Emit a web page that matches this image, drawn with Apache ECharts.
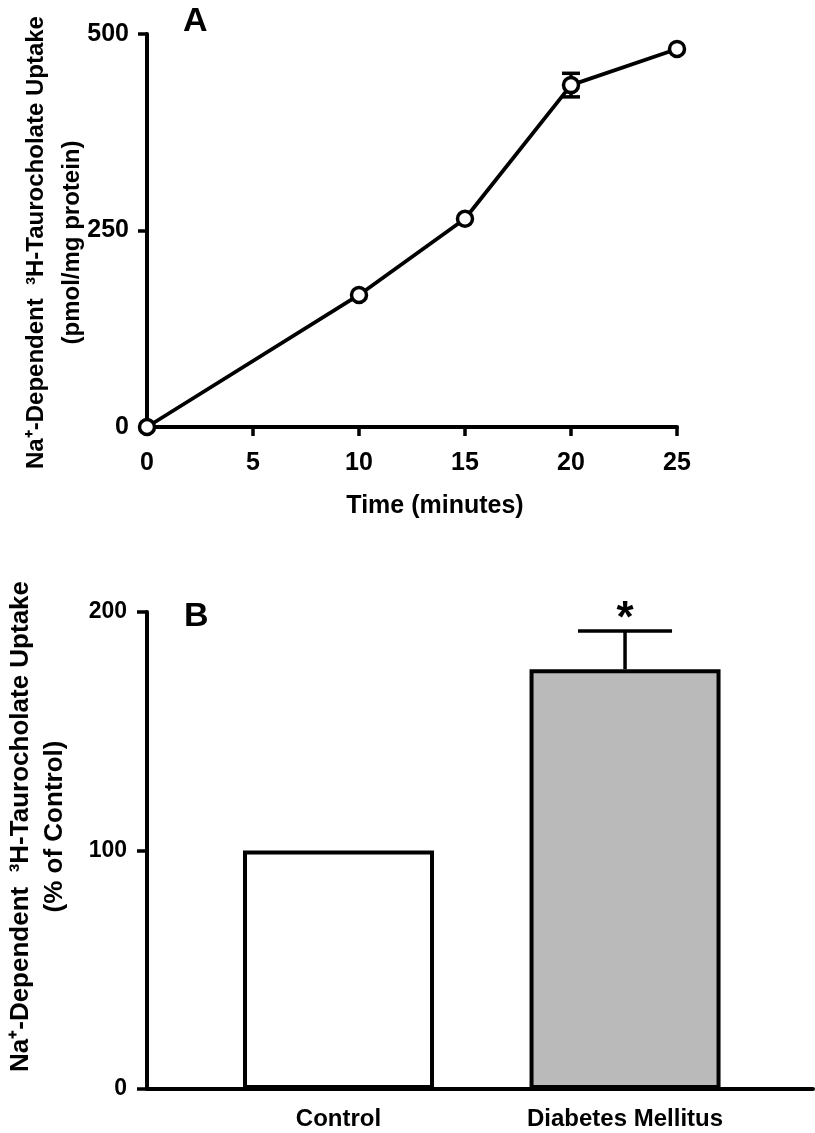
<!DOCTYPE html>
<html><head><meta charset="utf-8">
<script src="https://cdn.jsdelivr.net/npm/echarts@6/dist/echarts.min.js"></script>
<style>html,body{margin:0;padding:0;background:#fff}#c{width:815px;height:1133px}</style>
</head><body><div id="c"></div>
<script>
// Panel A data
const timeMinutes = [0, 10, 15, 20, 25];
const uptakeA = [0, 168, 265, 435, 481];
const semA = [0, 0, 0, 15, 0];
// Panel B data
const groups = ['Control', 'Diabetes Mellitus'];
const uptakeB = [100, 176];
const semB = [0, 16];
const sigB = ['', '*'];

const FONT = '"Liberation Sans", Arial, sans-serif';
const chart = echarts.init(document.getElementById('c'));

function errRender(isB) {
  return function (params, api) {
    const x = api.value(0), y = api.value(1), e = api.value(2);
    const children = [];
    const cap = isB ? 47 : 9;
    if (e > 0) {
      const pt = api.coord([x, y + e]);
      const pb = isB ? api.coord([x, y]) : api.coord([x, y - e]);
      children.push({type: 'line', shape: {x1: pt[0], y1: pt[1], x2: pb[0], y2: pb[1]}, style: {stroke: '#000', lineWidth: 3.5}});
      children.push({type: 'line', shape: {x1: pt[0] - cap, y1: pt[1], x2: pt[0] + cap, y2: pt[1]}, style: {stroke: '#000', lineWidth: 3.5}});
      if (!isB) children.push({type: 'line', shape: {x1: pb[0] - cap, y1: pb[1], x2: pb[0] + cap, y2: pb[1]}, style: {stroke: '#000', lineWidth: 3.5}});
    }
    if (isB && sigB[params.dataIndex]) {
      const pt = api.coord([x, y + e]);
      children.push({type: 'text', x: pt[0], y: pt[1] - 11, style: {text: sigB[params.dataIndex], font: 'bold 44px ' + FONT, fill: '#000', align: 'center', verticalAlign: 'middle'}});
    }
    return {type: 'group', children};
  };
}

const axisLineStyle = {show: true, onZero: false, lineStyle: {color: '#000', width: 4}};

chart.setOption({
  animation: false,
  backgroundColor: '#fff',
  textStyle: {fontFamily: FONT},
  grid: [
    {left: 147, top: 34, width: 530, height: 393, outerBoundsMode: 'none', containLabel: false},
    {left: 147, top: 612, width: 666, height: 477, outerBoundsMode: 'none', containLabel: false}
  ],
  title: [
    {text: 'A', left: 178, top: 0, textStyle: {fontSize: 34, fontWeight: 'bold', color: '#000', fontFamily: FONT}},
    {text: 'B', left: 179, top: 595, textStyle: {fontSize: 34, fontWeight: 'bold', color: '#000', fontFamily: FONT}}
  ],
  xAxis: [
    {
      type: 'value', gridIndex: 0, min: 0, max: 25, interval: 5,
      axisLine: axisLineStyle,
      axisTick: {show: true, inside: false, length: 9, lineStyle: {color: '#000', width: 3.5}},
      axisLabel: {color: '#000', fontSize: 25, fontWeight: 'bold', margin: 24, fontFamily: FONT},
      splitLine: {show: false},
      name: 'Time (minutes)', nameLocation: 'middle', nameGap: 67, nameMoveOverlap: false,
      nameTextStyle: {color: '#000', fontSize: 25, fontWeight: 'bold', fontFamily: FONT, padding: [0, 0, 0, 46]}
    },
    {
      type: 'value', gridIndex: 1, min: 0.3316, max: 2.656,
      axisLine: axisLineStyle,
      axisTick: {show: false},
      axisLabel: {color: '#000', fontSize: 24, fontWeight: 'bold', margin: 18, fontFamily: FONT,
        customValues: [1, 2], formatter: v => groups[Math.round(v) - 1] || ''},
      splitLine: {show: false}
    }
  ],
  yAxis: [
    {
      type: 'value', gridIndex: 0, min: 0, max: 500, interval: 250,
      axisLine: axisLineStyle,
      axisTick: {show: true, inside: false, length: 9, lineStyle: {color: '#000', width: 3.5}},
      axisLabel: {color: '#000', fontSize: 25, fontWeight: 'bold', margin: 18, fontFamily: FONT},
      splitLine: {show: false},
      name: 'Na⁺-Dependent  ³H-Taurocholate Uptake\n(pmol/mg protein)',
      nameLocation: 'middle', nameRotate: 90, nameGap: 57, nameMoveOverlap: false,
      nameTextStyle: {color: '#000', fontSize: 24, fontWeight: 'bold', lineHeight: 36, align: 'center', fontFamily: FONT, padding: [0, 24, 0, 0]}
    },
    {
      type: 'value', gridIndex: 1, min: 0, max: 200, interval: 100,
      axisLine: axisLineStyle,
      axisTick: {show: true, inside: false, length: 10, lineStyle: {color: '#000', width: 3.5}},
      axisLabel: {color: '#000', fontSize: 23, fontWeight: 'bold', margin: 20, fontFamily: FONT},
      splitLine: {show: false},
      name: 'Na⁺-Dependent  ³H-Taurocholate Uptake\n(% of Control)',
      nameLocation: 'middle', nameRotate: 90, nameGap: 75, nameMoveOverlap: false,
      nameTextStyle: {color: '#000', fontSize: 26, fontWeight: 'bold', lineHeight: 34, align: 'center', fontFamily: FONT, padding: [0, 0, 0, 48]}
    }
  ],
  series: [
    {
      type: 'custom', xAxisIndex: 0, yAxisIndex: 0, z: 1,
      renderItem: errRender(false),
      data: timeMinutes.map((t, i) => [t, uptakeA[i], semA[i]])
    },
    {
      type: 'line', xAxisIndex: 0, yAxisIndex: 0, z: 3,
      data: timeMinutes.map((t, i) => [t, uptakeA[i]]),
      symbol: 'circle', symbolSize: 15,
      lineStyle: {color: '#000', width: 3.8},
      itemStyle: {color: '#fff', borderColor: '#000', borderWidth: 3.5}
    },
    {
      type: 'bar', xAxisIndex: 1, yAxisIndex: 1, barWidth: 191,
      data: groups.map((g, i) => [i + 1, uptakeB[i]]),
      itemStyle: {color: p => p.dataIndex === 0 ? '#ffffff' : '#bababa', borderColor: '#000', borderWidth: 4}
    },
    {
      type: 'custom', xAxisIndex: 1, yAxisIndex: 1, z: 3,
      renderItem: errRender(true),
      data: groups.map((g, i) => [i + 1, uptakeB[i], semB[i]])
    }
  ]
});
</script>
</body></html>
